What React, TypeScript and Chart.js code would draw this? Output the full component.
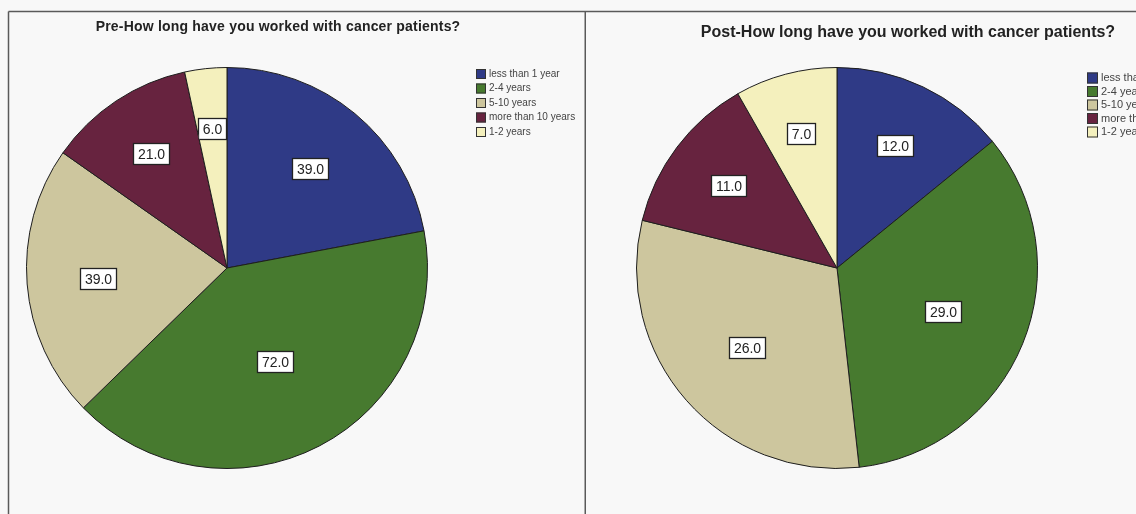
import React, { useEffect, useRef } from "react";
import { Chart, registerables } from "chart.js";

Chart.register(...registerables);

const categories = ["less than 1 year", "2-4 years", "5-10 years", "more than 10 years", "1-2 years"];
const preValues = [39, 72, 39, 21, 6];
const postValues = [12, 29, 26, 11, 7];
const preTitle = "Pre-How long have you worked with cancer patients?";
const postTitle = "Post-How long have you worked with cancer patients?";
const sliceColors = ["#2f3a86", "#477a2f", "#cdc69e", "#67233f", "#f4f0bd"];

const BG = "#f8f8f8";

type PanelOpts = {
  title: string;
  titleX: number;
  titleY: number;
  titleFont: string;
  titleSpacing: string;
  legendX: number;
  legendY: number;
  legendStep: number;
  boxSize: number;
  legendFont: string;
  leftBorder: boolean;
  rightBorder: boolean;
};

const panelPlugin = {
  id: "panel",
  beforeDraw(chart: any, _args: any, opts: PanelOpts) {
    const ctx = chart.ctx as CanvasRenderingContext2D;
    const w = chart.width;
    const h = chart.height;
    ctx.save();
    ctx.fillStyle = BG;
    ctx.fillRect(0, 0, w, h);
    // frame
    ctx.strokeStyle = "#5a5a5a";
    ctx.lineWidth = 1.5;
    ctx.beginPath();
    const left = opts.leftBorder ? 8.5 : 0;
    ctx.moveTo(left, 11.5);
    ctx.lineTo(w, 11.5);
    if (opts.leftBorder) {
      ctx.moveTo(8.5, 11.5);
      ctx.lineTo(8.5, h);
    }
    if (opts.rightBorder) {
      ctx.moveTo(w - 0.75, 11.5);
      ctx.lineTo(w - 0.75, h);
    }
    ctx.stroke();
    // title
    ctx.fillStyle = "#222";
    ctx.font = opts.titleFont;
    (ctx as any).letterSpacing = opts.titleSpacing;
    ctx.textAlign = "center";
    ctx.textBaseline = "middle";
    ctx.fillText(opts.title, opts.titleX, opts.titleY);
    (ctx as any).letterSpacing = "0px";
    // legend
    const labels: string[] = chart.data.labels;
    const colors: string[] = chart.data.datasets[0].backgroundColor;
    ctx.font = opts.legendFont;
    ctx.textAlign = "left";
    labels.forEach((lab, i) => {
      const cy = opts.legendY + i * opts.legendStep;
      const s = opts.boxSize;
      ctx.fillStyle = colors[i];
      ctx.fillRect(opts.legendX, cy - s / 2, s, s);
      ctx.strokeStyle = "#333";
      ctx.lineWidth = 1;
      ctx.strokeRect(opts.legendX + 0.5, cy - s / 2 + 0.5, s - 1, s - 1);
      ctx.fillStyle = "#444";
      ctx.fillText(lab, opts.legendX + s + 3, cy);
    });
    ctx.restore();
  },
  afterDatasetsDraw(chart: any) {
    const ctx = chart.ctx as CanvasRenderingContext2D;
    const meta = chart.getDatasetMeta(0);
    const data: number[] = chart.data.datasets[0].data;
    meta.data.forEach((arc: any, i: number) => {
      const p = arc.getProps(["x", "y", "startAngle", "endAngle", "outerRadius"], true);
      const half = (p.endAngle - p.startAngle) / 2;
      const frac = Math.min(0.75, (1.05 * 2 * Math.sin(half)) / (3 * half));
      const mid = p.startAngle + half;
      const r = p.outerRadius * frac;
      const lx = p.x + Math.cos(mid) * r;
      const ly = p.y + Math.sin(mid) * r;
      const txt = data[i].toFixed(1);
      ctx.save();
      ctx.beginPath();
      ctx.moveTo(p.x, p.y);
      ctx.arc(p.x, p.y, p.outerRadius, p.startAngle, p.endAngle);
      ctx.closePath();
      ctx.clip();
      ctx.font = "14px 'Liberation Sans', Arial, sans-serif";
      const tw = ctx.measureText(txt).width;
      const bw = Math.round(tw + 9);
      const bh = 21;
      const bx = Math.round(lx - bw / 2) + 0.5;
      const by = Math.round(ly - bh / 2) + 0.5;
      ctx.fillStyle = "#ffffff";
      ctx.fillRect(bx, by, bw, bh);
      ctx.strokeStyle = "#222";
      ctx.lineWidth = 1.3;
      ctx.strokeRect(bx, by, bw, bh);
      ctx.fillStyle = "#222";
      ctx.textAlign = "center";
      ctx.textBaseline = "middle";
      ctx.fillText(txt, bx + bw / 2, by + bh / 2 + 1);
      ctx.restore();
    });
  },
};

function PieChart(props: {
  values: number[];
  width: number;
  height: number;
  left: number;
  padding: { left: number; right: number; top: number; bottom: number };
  panel: PanelOpts;
}) {
  const ref = useRef<HTMLCanvasElement | null>(null);
  useEffect(() => {
    if (!ref.current) return;
    const chart = new Chart(ref.current, {
      type: "pie",
      data: {
        labels: categories,
        datasets: [
          {
            data: props.values,
            backgroundColor: sliceColors,
            borderColor: "#1e1e1e",
            borderWidth: 1,
          },
        ],
      },
      options: {
        responsive: false,
        animation: false,
        devicePixelRatio: 1,
        layout: { padding: props.padding },
        plugins: {
          legend: { display: false },
          title: { display: false },
          tooltip: { enabled: false },
          panel: props.panel,
        } as any,
      },
      plugins: [panelPlugin as any],
    });
    return () => chart.destroy();
  }, []);
  return (
    <canvas
      ref={ref}
      width={props.width}
      height={props.height}
      style={{ position: "absolute", left: props.left, top: 0, width: props.width, height: props.height }}
    />
  );
}

export default function App() {
  return (
    <div style={{ position: "fixed", left: 0, top: 0, width: 1136, height: 514, background: BG, overflow: "hidden" }}>
      <PieChart
        values={preValues}
        width={586}
        height={514}
        left={0}
        padding={{ left: 26, top: 67, right: 158, bottom: 45 }}
        panel={{
          title: preTitle,
          titleX: 278,
          titleY: 27,
          titleFont: "bold 14px 'Liberation Sans', Arial, sans-serif",
          titleSpacing: "0.2px",
          legendX: 476,
          legendY: 74,
          legendStep: 14.5,
          boxSize: 10,
          legendFont: "10px 'Liberation Sans', Arial, sans-serif",
          leftBorder: true,
          rightBorder: true,
        }}
      />
      <PieChart
        values={postValues}
        width={550}
        height={514}
        left={586}
        padding={{ left: 50, top: 67, right: 98, bottom: 45 }}
        panel={{
          title: postTitle,
          titleX: 322,
          titleY: 33,
          titleFont: "bold 16px 'Liberation Sans', Arial, sans-serif",
          titleSpacing: "0px",
          legendX: 501,
          legendY: 78,
          legendStep: 13.5,
          boxSize: 11,
          legendFont: "11px 'Liberation Sans', Arial, sans-serif",
          leftBorder: false,
          rightBorder: false,
        }}
      />
    </div>
  );
}
